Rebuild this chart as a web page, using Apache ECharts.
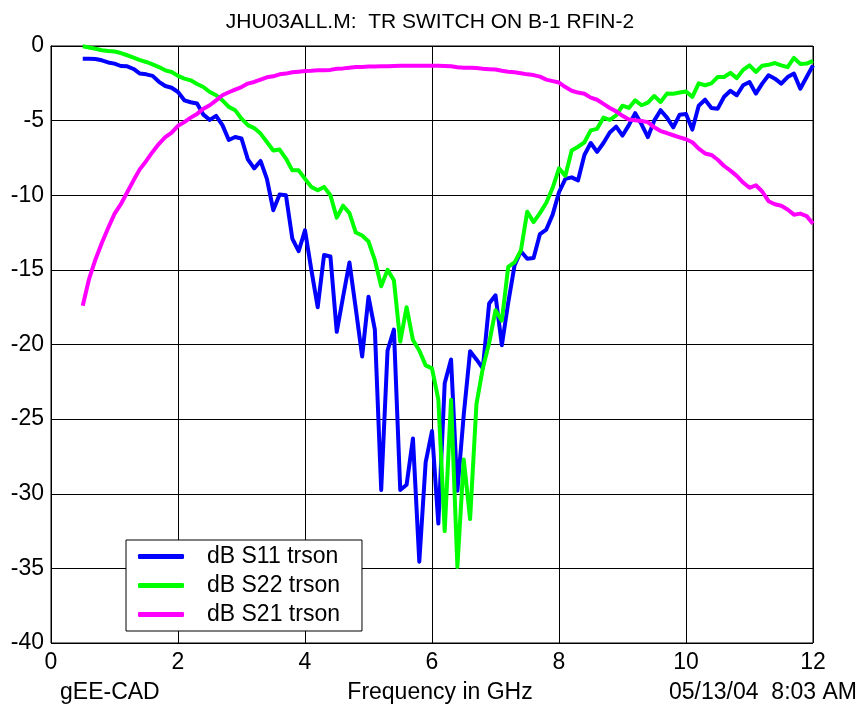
<!DOCTYPE html>
<html>
<head>
<meta charset="utf-8">
<script src="https://cdn.jsdelivr.net/npm/echarts@6/dist/echarts.min.js"></script>
<style>
html,body{margin:0;padding:0;background:#fff;}
#chart{width:860px;height:708px;}
</style>
</head>
<body>
<div id="chart"></div>
<script>
// Frequency points (GHz)
const freq = [0.5,0.6,0.7,0.8,0.9,1.0,1.1,1.2,1.3,1.4,1.5,1.6,1.7,1.8,1.9,2.0,2.1,2.2,2.3,2.4,
2.5,2.6,2.7,2.8,2.9,3.0,3.1,3.2,3.3,3.4,3.5,3.6,3.7,3.8,3.9,4.0,4.1,4.2,4.3,4.4,
4.5,4.6,4.7,4.8,4.9,5.0,5.1,5.2,5.3,5.4,5.5,5.6,5.7,5.8,5.9,6.0,6.1,6.2,6.3,6.4,
6.5,6.6,6.7,6.8,6.9,7.0,7.1,7.2,7.3,7.4,7.5,7.6,7.7,7.8,7.9,8.0,8.1,8.2,8.3,8.4,
8.5,8.6,8.7,8.8,8.9,9.0,9.1,9.2,9.3,9.4,9.5,9.6,9.7,9.8,9.9,10.0,10.1,10.2,10.3,10.4,
10.5,10.6,10.7,10.8,10.9,11.0,11.1,11.2,11.3,11.4,11.5,11.6,11.7,11.8,11.9,12.0];

// dB S11 trson
const s11 = [-0.85,-0.85,-0.87,-0.96,-1.10,-1.18,-1.34,-1.36,-1.54,-1.85,-1.90,-2.00,-2.40,-2.68,-2.80,-3.08,-3.64,-3.77,-3.85,-4.60,
-4.95,-4.68,-5.30,-6.30,-6.10,-6.20,-7.60,-8.20,-7.70,-8.90,-11.00,-9.95,-10.00,-12.90,-13.75,-12.35,-15.00,-17.50,-14.00,-14.10,
-19.15,-16.80,-14.50,-17.60,-20.80,-16.80,-19.00,-29.75,-20.40,-19.00,-29.75,-29.40,-26.30,-34.55,-27.90,-25.80,-32.00,-22.60,-21.00,-29.80,
-24.70,-20.45,-21.00,-21.60,-17.25,-16.70,-20.05,-17.20,-14.70,-13.75,-14.25,-14.20,-12.60,-12.30,-11.30,-9.80,-8.90,-8.80,-9.00,-7.30,
-6.50,-7.10,-6.50,-5.80,-5.40,-6.00,-5.30,-4.50,-5.25,-6.10,-5.00,-4.30,-4.80,-5.45,-4.60,-4.55,-5.60,-4.00,-3.60,-4.15,
-4.20,-3.40,-3.00,-3.30,-2.63,-2.41,-3.19,-2.52,-1.96,-2.19,-2.52,-2.08,-1.85,-2.86,-2.08,-1.30];

// dB S22 trson
const s22 = [-0.02,-0.10,-0.18,-0.28,-0.33,-0.37,-0.47,-0.62,-0.78,-0.95,-1.07,-1.23,-1.41,-1.63,-1.74,-2.00,-2.19,-2.30,-2.55,-2.75,
-3.08,-3.30,-3.64,-4.08,-4.30,-4.87,-5.30,-5.50,-5.87,-6.43,-7.00,-6.94,-7.54,-8.33,-8.33,-8.90,-9.45,-9.67,-9.44,-10.00,
-11.50,-10.70,-11.20,-12.50,-12.70,-13.10,-14.35,-16.10,-15.00,-15.70,-19.80,-17.50,-19.70,-20.40,-21.40,-21.60,-23.70,-32.50,-23.70,-34.90,
-27.70,-31.70,-24.00,-21.60,-19.90,-17.70,-18.40,-14.80,-14.50,-13.70,-11.10,-11.80,-11.20,-10.50,-9.50,-8.20,-8.70,-7.00,-6.75,-6.45,
-5.65,-5.55,-4.80,-4.95,-4.65,-4.00,-4.15,-3.64,-3.97,-3.80,-3.35,-3.75,-3.19,-3.20,-3.12,-3.05,-3.41,-2.50,-2.63,-2.50,
-2.08,-2.08,-1.80,-2.15,-1.60,-1.30,-1.74,-1.32,-1.26,-1.14,-1.30,-1.42,-0.80,-1.20,-1.18,-1.00];

// dB S21 trson
const s21 = [-17.40,-15.60,-14.30,-13.20,-12.20,-11.25,-10.60,-9.80,-9.00,-8.25,-7.70,-7.10,-6.55,-6.10,-5.80,-5.35,-5.10,-4.80,-4.55,-4.20,
-3.97,-3.64,-3.30,-3.10,-2.92,-2.75,-2.52,-2.41,-2.25,-2.10,-2.03,-1.90,-1.85,-1.76,-1.72,-1.68,-1.66,-1.63,-1.62,-1.60,
-1.52,-1.50,-1.45,-1.40,-1.40,-1.38,-1.37,-1.36,-1.35,-1.34,-1.33,-1.33,-1.33,-1.33,-1.33,-1.33,-1.33,-1.34,-1.36,-1.43,
-1.45,-1.45,-1.47,-1.52,-1.55,-1.58,-1.66,-1.72,-1.76,-1.82,-1.90,-1.95,-2.05,-2.25,-2.35,-2.45,-2.75,-3.00,-3.12,-3.20,
-3.46,-3.60,-3.88,-4.15,-4.38,-4.68,-4.93,-4.98,-5.02,-5.10,-5.45,-5.70,-5.83,-5.98,-6.12,-6.25,-6.45,-6.88,-7.20,-7.30,
-7.62,-8.04,-8.35,-8.70,-9.15,-9.50,-9.33,-9.75,-10.40,-10.60,-10.70,-10.95,-11.30,-11.23,-11.40,-11.90];

const seriesNames = ['dB S11 trson','dB S22 trson','dB S21 trson'];
const seriesColors = ['#0000ff','#00ff00','#ff00ff'];
const seriesValues = [s11, s22, s21];

const titleText = 'JHU03ALL.M:  TR SWITCH ON B-1 RFIN-2';
const xAxisName = 'Frequency in GHz';
const footLeft = 'gEE-CAD';
const footRight = '05/13/04  8:03 AM';

const FONT = '"Liberation Sans", Arial, Helvetica, sans-serif';

const chart = echarts.init(document.getElementById('chart'), null, {renderer:'canvas'});

const series = seriesNames.map((name, k) => ({
  name: name,
  type: 'line',
  data: freq.map((f, i) => [f, seriesValues[k][i]]),
  showSymbol: false,
  symbol: 'none',
  animation: false,
  lineStyle: {color: seriesColors[k], width: 4, join: 'round'},
  itemStyle: {color: seriesColors[k]}
}));

chart.setOption({
  backgroundColor: '#fff',
  animation: false,
  title: {
    text: titleText,
    left: 'center',
    top: 7,
    textStyle: {fontFamily: FONT, fontSize: 21, fontWeight: 'normal', color: '#000'}
  },
  grid: {left: 51, top: 46, right: 47, bottom: 65, containLabel: false, outerBoundsMode: 'none',
         show: true, borderColor: '#000', borderWidth: 1, backgroundColor: 'transparent'},
  legend: {
    orient: 'vertical',
    left: 126, top: 540,
    data: seriesNames,
    icon: 'roundRect',
    itemWidth: 46, itemHeight: 5, itemGap: 6,
    padding: [5, 22, 5, 12],
    borderColor: '#000', borderWidth: 1,
    backgroundColor: '#fff',
    selectedMode: false,
    textStyle: {fontFamily: FONT, fontSize: 23, color: '#000', padding: [0, 0, 0, 18]}
  },
  xAxis: {
    type: 'value', min: 0, max: 12, interval: 2,
    name: xAxisName, nameLocation: 'middle', nameGap: 38,
    nameTextStyle: {fontFamily: FONT, fontSize: 23, color: '#000', padding: [0, 0, 0, 16]},
    axisLine: {lineStyle: {color: '#000', width: 1}},
    axisTick: {show: false},
    axisLabel: {fontFamily: FONT, fontSize: 23, color: '#000', margin: 8},
    splitLine: {show: true, lineStyle: {color: '#000', width: 1}}
  },
  yAxis: {
    type: 'value', min: -40, max: 0, interval: 5,
    axisLine: {lineStyle: {color: '#000', width: 1}},
    axisTick: {show: false},
    axisLabel: {fontFamily: FONT, fontSize: 23, color: '#000', margin: 7},
    splitLine: {show: true, lineStyle: {color: '#000', width: 1}}
  },
  graphic: [
    {type: 'text', left: 60, top: 681, style: {text: footLeft, font: '23px ' + FONT, fill: '#000'}},
    {type: 'text', right: 3, top: 681, style: {text: footRight, font: '23px ' + FONT, fill: '#000'}}
  ],
  series: series
});
</script>
</body>
</html>
